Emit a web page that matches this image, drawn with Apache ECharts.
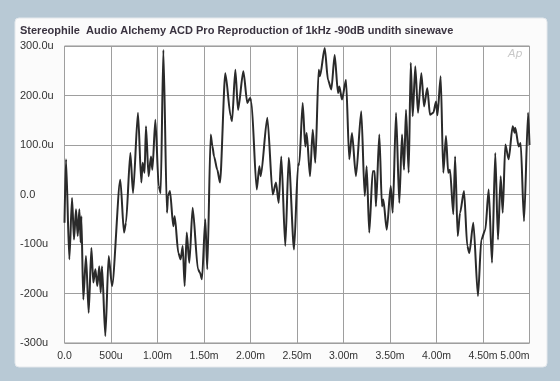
<!DOCTYPE html>
<html>
<head>
<meta charset="utf-8">
<title>Audio Alchemy ACD Pro - 1kHz -90dB undithered</title>
<script src="https://cdn.jsdelivr.net/npm/echarts@6/dist/echarts.min.js"></script>
</head>
<body style="margin:0;padding:0;background:#b8c9d5;">
<div id="main" style="width:560px;height:381px;"></div>
<script>
// time in ms, level in micro-units
var times = [
  0.000, 0.016, 0.052, 0.081, 0.102, 0.124, 0.142, 0.160, 0.174, 0.181,
  0.202, 0.231, 0.260, 0.289, 0.310, 0.332, 0.353, 0.374, 0.389, 0.403,
  0.439, 0.475, 0.511, 0.600, 0.640, 0.661, 0.708, 0.737, 0.790, 0.826,
  0.840, 0.861, 0.876, 0.904, 0.930, 0.945, 0.977, 1.013, 1.034, 1.063,
  1.102, 1.113, 1.134, 1.170, 1.185, 1.224, 1.249, 1.271, 1.292, 1.314,
  1.342, 1.378, 1.435, 1.457, 1.478, 1.514, 1.535, 1.572, 1.590, 1.608,
  1.643, 1.672, 1.729, 1.787, 1.801, 1.837, 1.866, 1.923, 1.966, 1.995,
  2.009, 2.067, 2.095, 2.110, 2.181, 2.239, 2.274, 2.303, 2.331, 2.374,
  2.411, 2.468, 2.511, 2.525, 2.561, 2.589, 2.604, 2.640, 2.669, 2.697,
  2.733, 2.747, 2.798, 2.833, 2.869, 2.905, 2.941, 2.955, 2.984, 3.027,
  3.062, 3.091, 3.134, 3.191, 3.228, 3.249, 3.277, 3.314, 3.335, 3.349,
  3.385, 3.414, 3.428, 3.465, 3.508, 3.529, 3.565, 3.600, 3.629, 3.651,
  3.672, 3.701, 3.723, 3.744, 3.772, 3.801, 3.837, 3.866, 3.901, 3.930,
  3.966, 3.995, 4.010, 4.045, 4.073, 4.102, 4.126, 4.145, 4.181, 4.200,
  4.228, 4.253, 4.296, 4.331, 4.353, 4.396, 4.446, 4.482, 4.525, 4.561,
  4.597, 4.632, 4.661, 4.690, 4.712, 4.740, 4.776, 4.819, 4.841, 4.847,
  4.884, 4.905, 4.941, 4.985, 5.000
];
var levels = [
  -57, 71, -131, -7, -91, -30, -84, -30, -97, -44,
  -212, -124, -239, -108, -178, -151, -185, -145, -198, -145,
  -286, -124, -185, 30, -77, -57, 84, 3, 165, 24,
  64, 44, 138, 37, 77, 50, 151, 17, 3, 292,
  -37, -3, 7, -64, -44, -118, -131, -104, -185, -77,
  -138, -27, -151, -158, -171, -50, -151, 121, 98, 77,
  50, 24, 245, 158, 148, 252, 171, 249, 185, 195,
  188, 10, 57, 37, 155, 0, 24, -17, 77, -104,
  74, -111, 57, 64, 185, 97, 124, 37, 131, 64,
  252, 239, 296, 232, 212, 282, 205, 218, 192, 232,
  71, 124, 37, 168, -3, 57, -77, 47, 47, -24,
  121, -24, -10, -71, 17, -37, 165, -17, 121, 50,
  171, 44, 266, 158, 259, 165, 245, 178, 215, 161,
  165, 188, 160, 239, 44, 118, 44, 50, -40, 77,
  -84, -37, 7, -104, -118, -57, -205, -91, -71, 10,
  -138, 84, -91, 37, -37, 101, 71, 138, 125, 135,
  97, 104, -54, 165, 100
];
var xTickLabels = ['0.0', '500u', '1.00m', '1.50m', '2.00m', '2.50m', '3.00m', '3.50m', '4.00m', '4.50m', '5.00m'];
var yTickLabels = ['-300u', '-200u', '-100u', '0.0', '100.0u', '200.0u', '300.0u'];
var titleText = 'Stereophile  Audio Alchemy ACD Pro Reproduction of 1kHz -90dB undith sinewave';

var seriesData = [];
for (var i = 0; i < times.length; i++) {
  seriesData.push([times[i], levels[i]]);
}

var myChart = echarts.init(document.getElementById('main'));

var option = {
  backgroundColor: '#b8c9d5',
  animation: false,
  graphic: [
    {
      type: 'rect',
      shape: { x: 15, y: 18, width: 532, height: 349, r: 4 },
      style: { fill: '#fbfbfb', stroke: '#e4e8ec', lineWidth: 1 },
      z: -10
    },
    {
      type: 'text',
      left: 20,
      top: 25,
      style: {
        text: titleText,
        font: 'bold 11px "Liberation Sans", Arial, sans-serif',
        fill: '#3a3340'
      }
    },
    {
      type: 'text',
      left: 508,
      top: 49,
      style: {
        text: 'Ap',
        font: 'italic 11px "DejaVu Sans", sans-serif',
        fill: '#c8c8c8'
      }
    }
  ],
  grid: {
    left: 64.5,
    top: 46,
    right: 30.5,
    bottom: 38,
    show: true,
    borderColor: '#939393',
    borderWidth: 1,
    backgroundColor: '#ffffff'
  },
  xAxis: {
    type: 'value',
    min: 0,
    max: 5,
    interval: 0.5,
    axisLine: { show: false },
    axisTick: { show: false },
    splitLine: { lineStyle: { color: '#9e9e9e', width: 1 } },
    axisLabel: {
      margin: 8,
      color: '#333',
      fontSize: 10.5,
      fontFamily: '"Liberation Sans", Arial, sans-serif',
      alignMaxLabel: 'right',
      formatter: function (v) {
        return xTickLabels[Math.round(v / 0.5)];
      }
    }
  },
  yAxis: {
    type: 'value',
    min: -300,
    max: 300,
    interval: 100,
    axisLine: { show: false },
    axisTick: { show: false },
    splitLine: { lineStyle: { color: '#9e9e9e', width: 1 } },
    axisLabel: {
      align: 'left',
      margin: 44.5,
      color: '#333',
      fontSize: 11,
      fontFamily: '"Liberation Sans", Arial, sans-serif',
      formatter: function (v) {
        return yTickLabels[Math.round(v / 100) + 3];
      }
    }
  },
  series: [
    {
      type: 'line',
      data: seriesData,
      showSymbol: false,
      smooth: 0.25,
      smoothMonotone: 'x',
      lineStyle: { color: '#2a2a2a', width: 2 }
    }
  ]
};
myChart.setOption(option);
</script>
</body>
</html>
